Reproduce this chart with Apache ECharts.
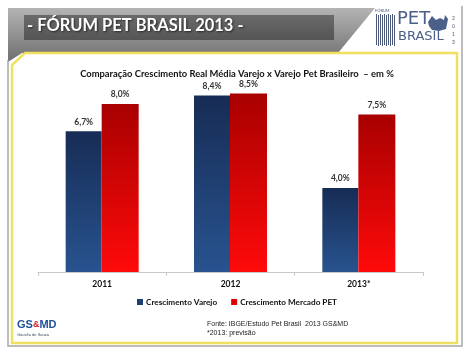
<!DOCTYPE html>
<html><head><meta charset="utf-8">
<script src="https://cdn.jsdelivr.net/npm/echarts@6/dist/echarts.min.js"></script>
<style>html,body{margin:0;padding:0;background:#fff}#c{width:474px;height:355px}</style>
</head><body><div id="c"></div>
<script>
const categories = ['2011', '2012', '2013*'];
const varejo = [6.7, 8.4, 4.0];
const mercadoPet = [8.0, 8.5, 7.5];
const seriesNames = ['Crescimento Varejo', 'Crescimento Mercado PET'];
const fmt = v => v.toFixed(1).replace('.', ',') + '%';

const chart = echarts.init(document.getElementById('c'));
const blueGrad = new echarts.graphic.LinearGradient(0,0,0,1,[{offset:0,color:'#172c55'},{offset:1,color:'#28538f'}]);
const redGrad = new echarts.graphic.LinearGradient(0,0,0,1,[{offset:0,color:'#a80000'},{offset:1,color:'#ff0a0a'}]);
const lblStyle = {show:true, position:'top', distance:5, formatter:p=>fmt(p.value), fontFamily:'Lato', fontWeight:'bold', fontSize:8.5, color:'#333'};

chart.setOption({
  animation:false,
  backgroundColor:'#fff',
  title:{text:'Comparação Crescimento Real Média Varejo x Varejo Pet Brasileiro  – em %', left:'center', top:64,
    textStyle:{fontFamily:'Lato', fontWeight:'bold', fontSize:9.4, color:'#111'}},
  legend:{data:[{name:seriesNames[0],itemStyle:{color:'#1f3f73'}},{name:seriesNames[1],itemStyle:{color:'#e00000'}}], top:293, left:'center', itemWidth:6, itemHeight:6, itemGap:14, icon:'rect',
    textStyle:{fontFamily:'Lato', fontWeight:'bold', fontSize:8.2, color:'#111', padding:[0,0,0,-2]}},
  grid:{left:38, right:51, top:62, bottom:83},
  xAxis:{type:'category', data:categories, axisLine:{lineStyle:{color:'#c8c8c8'}}, axisTick:{show:true, length:4, lineStyle:{color:'#c8c8c8'}},
    axisLabel:{fontFamily:'Lato', fontWeight:'bold', fontSize:8.5, color:'#111', margin:8}},
  yAxis:{type:'value', min:0, max:10, show:false, splitLine:{show:false}},
  series:[
    {name:seriesNames[0], type:'bar', data:varejo, barWidth:36, barGap:'0%', itemStyle:{color:blueGrad}, label:lblStyle},
    {name:seriesNames[1], type:'bar', data:mercadoPet, barWidth:37, itemStyle:{color:redGrad}, label:lblStyle}
  ],
  graphic:[
    {type:'polygon', z:-10, shape:{points:[[8,8],[375,8],[338,53],[22,53],[8,62]]},
      style:{fill:new echarts.graphic.LinearGradient(0,0,0,1,[{offset:0,color:'#b4b4b4'},{offset:1,color:'#6e6e6e'}])}},
    {type:'rect', z:-9, shape:{x:24,y:15,width:310,height:25},
      style:{fill:new echarts.graphic.LinearGradient(0,0,0,1,[{offset:0,color:'#6a6a6a'},{offset:1,color:'#555'}])}},
    {type:'text', z:-8, left:27, top:17, style:{text:'- FÓRUM PET BRASIL 2013 -', fill:'#fff', font:'bold 16.5px Lato', textShadowColor:'rgba(0,0,0,0.6)', textShadowBlur:2, textShadowOffsetX:1, textShadowOffsetY:1}},
    {type:'polyline', z:-10, shape:{points:[[8,60],[8,346],[462,346],[462,6]]}, style:{stroke:'#a8a8a8', lineWidth:1.5, fill:null}},
    {type:'polygon', z:-9, shape:{points:[[25,53],[457,53],[457,343],[12,343],[12,65]]}, style:{stroke:'#f0e060', lineWidth:2.5, fill:'#fff'}},
    ...[0,2,4,6,8,10,12,14,16,18].map(i=>({type:'rect', z:-8, shape:{x:376+i,y:14+(i%4===0?0:1),width:1,height:31}, style:{fill:'#4a5a78'}})),
    {type:'text', z:-8, left:375, top:9, style:{text:'FÓRUM', fill:'#4a5a78', font:'4px Lato'}},
    {type:'text', z:-8, left:397, top:10, style:{text:'PET', fill:'#4a6088', font:'18px "DejaVu Sans"'}},
    {type:'text', z:-8, left:398, top:30, style:{text:'BRASIL', fill:'#4a6088', font:'13px "DejaVu Sans ExtraLight", "DejaVu Sans"'}},
    {type:'polygon', z:-8, shape:{points:[[428,22],[432,16],[436,20],[440,18],[444,20],[445,15],[448,19],[446,29],[439,31],[432,30],[429,26]]}, style:{fill:'#4a6088'}},
    {type:'text', z:-8, left:452, top:14, style:{text:'2\n0\n1\n3', fill:'#4a5a78', font:'5px Lato', lineHeight:8}},
    {type:'text', z:-8, left:17, top:319, style:{rich:{a:{fill:'#1f4f9a', font:'bold 11px "Liberation Sans"'}, b:{fill:'#d02020', font:'bold 9px "Liberation Sans"'}}, text:'{a|GS}{b|&}{a|MD}'}},
    {type:'text', z:-8, left:17, top:333, style:{text:'Gouvêa de Souza', fill:'#3a4a6a', font:'4px "Liberation Sans"'}},
    {type:'text', z:-8, left:207, top:320, style:{text:'Fonte: IBGE/Estudo Pet Brasil  2013 GS&MD\n*2013: previsão', fill:'#222', font:'7px "Liberation Sans"', lineHeight:9}}
  ]
});
</script></body></html>
